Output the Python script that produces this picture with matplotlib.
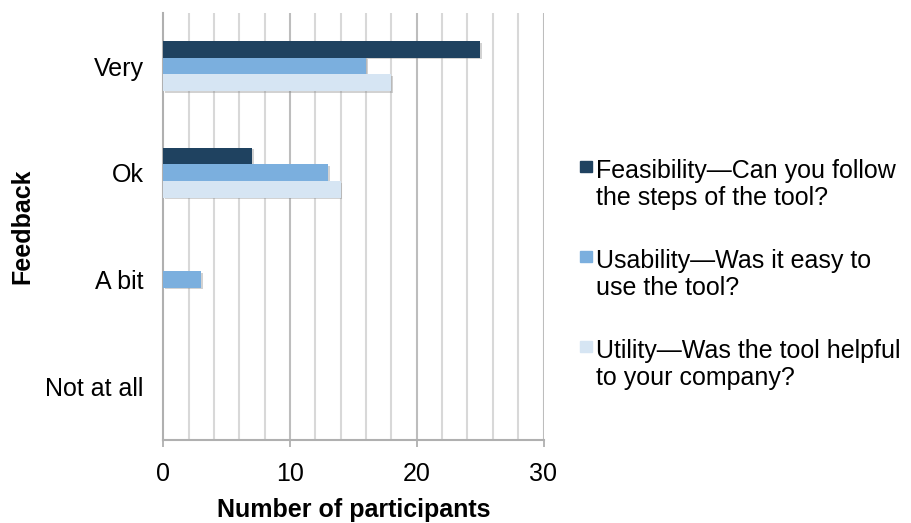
import numpy as np
import matplotlib
matplotlib.use("Agg")
import matplotlib.pyplot as plt
import matplotlib.patheffects as pe
from matplotlib.patches import Rectangle

# data
categories = ["Very", "Ok", "A bit", "Not at all"]
feasibility = [25, 7, 0, 0]
usability = [16, 13, 3, 0]
utility = [18, 14, 0, 0]
legend_lines = [
    ["Feasibility\u2014Can you follow", "the steps of the tool?"],
    ["Usability\u2014Was it easy to", "use the tool?"],
    ["Utility\u2014Was the tool helpful", "to your company?"],
]
colors = ["#1F4260", "#7BAFDE", "#D6E5F3"]

plt.rcParams["font.family"] = ["Liberation Sans", "DejaVu Sans"]

W, H = 911, 523
fig = plt.figure(figsize=(W / 100, H / 100), dpi=100)
ax = fig.add_axes([163.3 / W, 1 - 439.5 / H, (543.5 - 163.3) / W, (439.5 - 12.7) / H])


def fx(px):
    return px / W


def fy(py):
    return 1 - py / H


y = np.arange(len(categories))
h = 0.156
shadow = [pe.SimplePatchShadow(offset=(1.2, -1.2), shadow_rgbFace="#808080", alpha=0.35), pe.Normal()]
for off, vals, c in zip([-h, 0, h], [feasibility, usability, utility], colors):
    bars = ax.barh(y + off, vals, height=h, color=c, zorder=3)
    for b, v in zip(bars, vals):
        if v > 0:
            b.set_path_effects(shadow)
        else:
            b.set_visible(False)

ax.set_xlim(0, 30)
ax.set_ylim(3.5, -0.5)

# vertical grid every 2, darker at 10 and 20
for gx in range(2, 31, 2):
    col = "#BDBDBD" if gx % 10 == 0 else "#D8D8D8"
    ax.axvline(gx, color=col, lw=1.5, zorder=1)

ax.set_xticks([0, 10, 20, 30])
ax.set_yticks(y)
ax.set_yticklabels(categories)
ax.tick_params(axis="x", labelsize=18, length=5, width=1.3, color="#B0B0B0", pad=11)
ax.tick_params(axis="y", labelsize=18, length=0, pad=14)

for s in ["top", "right"]:
    ax.spines[s].set_visible(False)
ax.spines["left"].set_color("#B0B0B0")
ax.spines["left"].set_linewidth(1.5)
ax.spines["bottom"].set_color("#B0B0B0")
ax.spines["bottom"].set_linewidth(1.5)

ax.set_xlabel("Number of participants", fontsize=18, fontweight="bold", labelpad=9)
ax.set_ylabel("Feedback", fontsize=18, fontweight="bold")
ax.yaxis.set_label_coords(-0.34, 0.5)

# legend drawn by hand so the square sits on the first line
sq_tops = [161, 251, 341]
base1 = [178, 268, 358]
for top, b, lines, c in zip(sq_tops, base1, legend_lines, colors):
    fig.patches.append(Rectangle((fx(580), fy(top + 11)), fx(12), 11 / H,
                                 transform=fig.transFigure, color=c))
    fig.text(fx(596), fy(b), lines[0], fontsize=18, va="baseline", ha="left")
    fig.text(fx(596), fy(b + 27), lines[1], fontsize=18, va="baseline", ha="left")

fig.savefig("out.png", dpi=100)
